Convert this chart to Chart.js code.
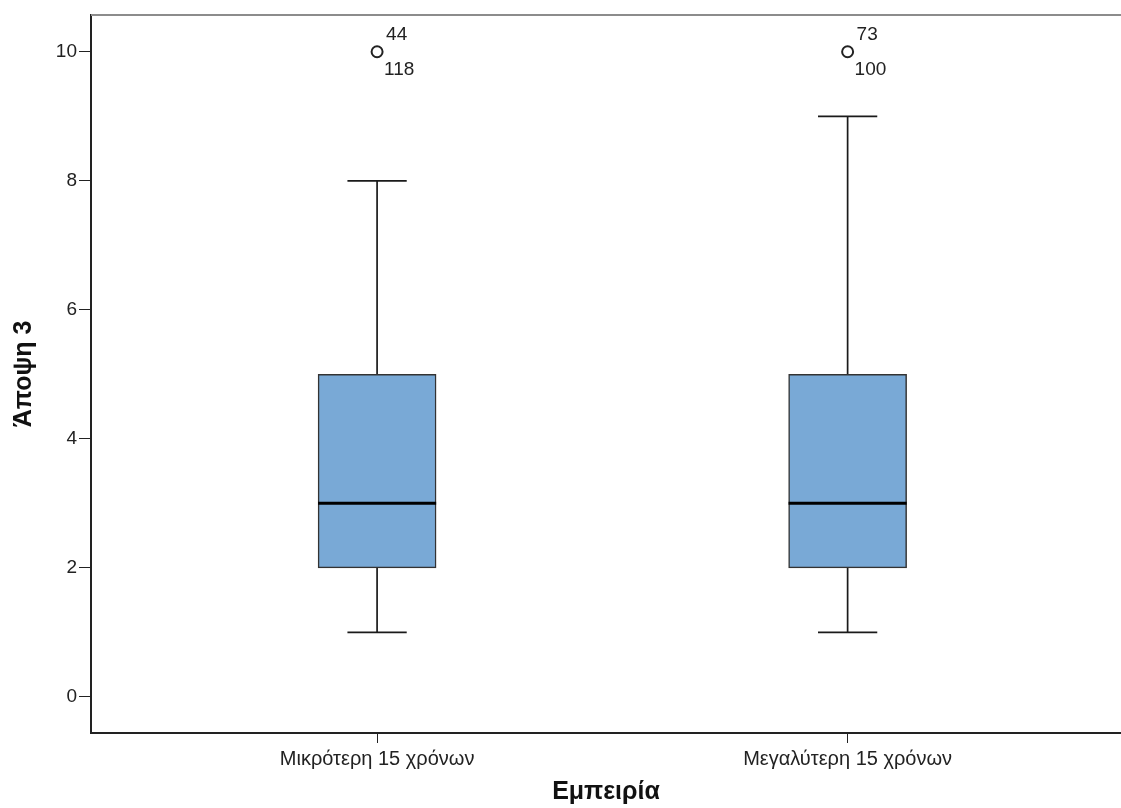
<!DOCTYPE html>
<html>
<head>
<meta charset="utf-8">
<script src="https://cdn.jsdelivr.net/npm/chart.js@4.4.0/dist/chart.umd.min.js"></script>
<style>
  html, body { margin: 0; padding: 0; background: #fff; }
  #wrap { width: 1121px; height: 808px; }
</style>
</head>
<body>
<div id="wrap"><canvas id="box-chart" width="1121" height="808"></canvas></div>
<script>
// boxplot values
var groups = ["Μικρότερη 15 χρόνων", "Μεγαλύτερη 15 χρόνων"];
var whiskerLow = [1, 1];
var q1 = [2, 2];
var median = [3, 3];
var q3 = [5, 5];
var whiskerHigh = [8, 9];
var outliers = [10, 10];
var outlierIds = [["44", "118"], ["73", "100"]];
var yTicks = [0, 2, 4, 6, 8, 10];

var boxHalf = 0.1255;   // half box width in x units
var capHalf = 0.063;    // half whisker cap width
var font = '"Liberation Sans", Arial, sans-serif';

var boxData = [], whiskerData = [], medianData = [], outlierData = [];
for (var i = 0; i < groups.length; i++) {
  var x = i + 1;
  boxData.push({ x: x, y: [q1[i], q3[i]] });
  whiskerData.push({ x: x, y: whiskerLow[i] }, { x: x, y: whiskerHigh[i] }, { x: x, y: null });
  whiskerData.push({ x: x - capHalf, y: whiskerLow[i] }, { x: x + capHalf, y: whiskerLow[i] }, { x: x, y: null });
  whiskerData.push({ x: x - capHalf, y: whiskerHigh[i] }, { x: x + capHalf, y: whiskerHigh[i] }, { x: x, y: null });
  medianData.push({ x: x - boxHalf, y: median[i] }, { x: x + boxHalf, y: median[i] }, { x: x, y: null });
  outlierData.push({ x: x, y: outliers[i] });
}

var extras = {
  id: 'extras',
  afterDraw: function(chart) {
    var ctx = chart.ctx, a = chart.chartArea;
    ctx.save();
    ctx.strokeStyle = '#8c8c8c';
    ctx.lineWidth = 2;
    ctx.beginPath();
    ctx.moveTo(a.left, a.top);
    ctx.lineTo(a.right, a.top);
    ctx.stroke();

    var meta = chart.getDatasetMeta(3);
    ctx.fillStyle = '#222';
    ctx.font = '19px ' + font;
    ctx.textAlign = 'left';
    ctx.textBaseline = 'middle';
    meta.data.forEach(function(pt, i) {
      ctx.fillText(outlierIds[i][0], pt.x + 9, pt.y - 17);
      ctx.fillText(outlierIds[i][1], pt.x + 7, pt.y + 18);
    });
    ctx.restore();
  }
};

new Chart(document.getElementById("box-chart"), {
  type: 'bar',
  data: {
    datasets: [{
      type: 'line',
      data: whiskerData,
      borderColor: '#1a1a1a',
      borderWidth: 1.7,
      pointRadius: 0,
      spanGaps: false,
      order: 3
    }, {
      type: 'bar',
      data: boxData,
      backgroundColor: '#79a9d6',
      borderColor: '#333',
      borderWidth: 1.5,
      borderSkipped: false,
      barThickness: 118,
      order: 2
    }, {
      type: 'line',
      data: medianData,
      borderColor: '#000',
      borderWidth: 3,
      pointRadius: 0,
      spanGaps: false,
      order: 1
    }, {
      type: 'scatter',
      data: outlierData,
      pointRadius: 5.5,
      pointBackgroundColor: 'rgba(0,0,0,0)',
      pointBorderColor: '#222',
      pointBorderWidth: 2,
      showLine: false,
      order: 0
    }]
  },
  options: {
    responsive: false,
    animation: false,
    layout: { autoPadding: false, padding: { top: 15, left: 0, right: 0, bottom: 0 } },
    plugins: {
      legend: { display: false },
      tooltip: { enabled: false }
    },
    scales: {
      x: {
        type: 'linear',
        offset: false,
        min: 0.392,
        max: 2.581,
        afterBuildTicks: function(scale) {
          scale.ticks = groups.map(function(g, i) { return { value: i + 1 }; });
        },
        afterFit: function(scale) {
          scale.height = 75;
          scale.paddingLeft = 0;
          scale.paddingRight = 0;
        },
        ticks: {
          autoSkip: false,
          maxRotation: 0,
          color: '#222',
          padding: 4,
          font: { family: font, size: 20 },
          callback: function(v) { return groups[v - 1]; }
        },
        grid: { drawOnChartArea: false, drawTicks: true, tickLength: 10, color: '#222', offset: false },
        border: { color: '#222', width: 2 },
        title: {
          display: true,
          text: 'Εμπειρία',
          color: '#111',
          font: { family: font, size: 25, weight: 'bold' },
          padding: { top: 0, bottom: 1 }
        }
      },
      y: {
        min: -0.56,
        max: 10.57,
        afterBuildTicks: function(scale) {
          scale.ticks = yTicks.map(function(v) { return { value: v }; });
        },
        afterFit: function(scale) { scale.width = 91; },
        ticks: {
          color: '#222',
          padding: 2,
          font: { family: font, size: 19 }
        },
        grid: { drawOnChartArea: false, drawTicks: true, tickLength: 12, color: '#222' },
        border: { color: '#222', width: 2 },
        title: {
          display: true,
          text: 'Άποψη 3',
          color: '#111',
          font: { family: font, size: 25, weight: 'bold' },
          padding: { top: 9, bottom: 0 }
        }
      }
    }
  },
  plugins: [extras]
});
</script>
</body>
</html>
